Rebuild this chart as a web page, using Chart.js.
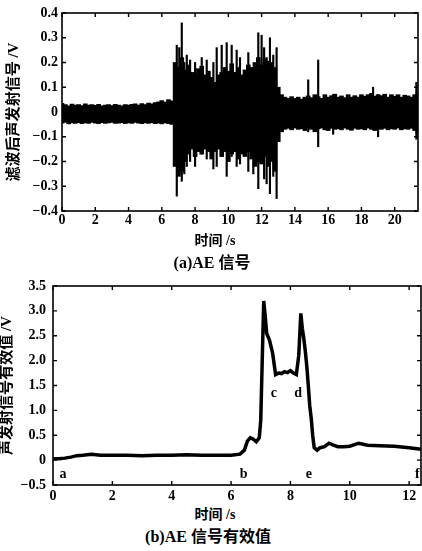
<!DOCTYPE html>
<html>
<head>
<meta charset="utf-8">
<script src="https://cdn.jsdelivr.net/npm/chart.js@4/dist/chart.umd.min.js"></script>
<style>
html,body{margin:0;padding:0;background:#fff;}
body{width:422px;height:551px;position:relative;overflow:hidden;}
canvas{position:absolute;left:0;}
.t{position:absolute;text-align:center;color:#000;font-weight:bold;white-space:nowrap;
   font-family:'Liberation Serif','Noto Sans CJK SC',serif;}
</style>
</head>
<body>
<canvas id="ca" width="422" height="250" style="top:0;width:422px;height:250px"></canvas>
<canvas id="cb" width="422" height="235" style="top:270px;width:422px;height:235px"></canvas>
<div class="t" style="left:0;width:430px;top:233px;font-size:14px;line-height:16px;">时间 /s</div>
<div class="t" style="left:0;width:424px;top:254px;font-size:16px;line-height:18px;">(a)AE 信号</div>
<div class="t" style="left:0;width:430px;top:507px;font-size:14px;line-height:16px;">时间 /s</div>
<div class="t" style="left:0;width:416px;top:528px;font-size:16px;line-height:18px;">(b)AE 信号有效值</div>
<script>
// ---------- Chart (a): AE signal (envelope, 0.2 s steps) ----------
const timeA = [0,0.2,0.4,0.6,0.8,1.0,1.2,1.4,1.6,1.8,2.0,2.2,2.4,2.6,2.8,3.0,3.2,3.4,3.6,3.8,
  4.0,4.2,4.4,4.6,4.8,5.0,5.2,5.4,5.6,5.8,6.0,6.2,6.4,6.6,6.8,7.0,7.2,7.4,7.6,7.8,
  8.0,8.2,8.4,8.6,8.8,9.0,9.2,9.4,9.6,9.8,10.0,10.2,10.4,10.6,10.8,11.0,11.2,11.4,11.6,11.8,
  12.0,12.2,12.4,12.6,12.8,13.0,13.2,13.4,13.6,13.8,14.0,14.2,14.4,14.6,14.8,15.0,15.2,15.4,15.6,15.8,
  16.0,16.2,16.4,16.6,16.8,17.0,17.2,17.4,17.6,17.8,18.0,18.2,18.4,18.6,18.8,19.0,19.2,19.4,19.6,19.8,
  20.0,20.2,20.4,20.6,20.8,21.0,21.2,21.4];
const upperA = [0.035,0.030,0.025,0.032,0.028,0.030,0.026,0.033,0.028,0.030,
  0.027,0.031,0.025,0.028,0.030,0.026,0.031,0.028,0.025,0.030,
  0.028,0.031,0.033,0.028,0.034,0.030,0.036,0.033,0.038,0.041,
  0.046,0.040,0.050,0.045,0.200,0.180,0.220,0.170,0.190,0.160,
  0.150,0.175,0.185,0.150,0.165,0.140,0.120,0.150,0.160,0.180,
  0.165,0.195,0.160,0.180,0.150,0.170,0.190,0.180,0.200,0.220,
  0.190,0.215,0.205,0.200,0.180,0.100,0.070,0.060,0.055,0.062,
  0.055,0.060,0.052,0.060,0.065,0.058,0.070,0.062,0.055,0.070,
  0.060,0.066,0.072,0.060,0.065,0.058,0.070,0.060,0.066,0.060,
  0.070,0.064,0.070,0.075,0.064,0.070,0.066,0.072,0.060,0.070,
  0.064,0.070,0.060,0.068,0.065,0.060,0.070,0.080];
const lowerA = [-0.045,-0.042,-0.048,-0.044,-0.046,-0.043,-0.047,-0.044,-0.046,-0.042,
  -0.045,-0.047,-0.043,-0.046,-0.044,-0.042,-0.046,-0.045,-0.043,-0.047,
  -0.044,-0.046,-0.042,-0.045,-0.047,-0.044,-0.046,-0.043,-0.047,-0.045,
  -0.048,-0.044,-0.047,-0.050,-0.220,-0.260,-0.240,-0.200,-0.170,-0.150,
  -0.180,-0.160,-0.170,-0.150,-0.160,-0.190,-0.160,-0.150,-0.180,-0.160,
  -0.200,-0.170,-0.160,-0.190,-0.170,-0.180,-0.160,-0.190,-0.220,-0.200,
  -0.210,-0.180,-0.220,-0.200,-0.240,-0.120,-0.080,-0.070,-0.066,-0.072,
  -0.065,-0.070,-0.068,-0.075,-0.066,-0.070,-0.080,-0.068,-0.065,-0.072,
  -0.075,-0.066,-0.070,-0.068,-0.072,-0.065,-0.070,-0.074,-0.066,-0.070,
  -0.068,-0.072,-0.065,-0.070,-0.075,-0.068,-0.070,-0.066,-0.072,-0.068,
  -0.070,-0.065,-0.072,-0.068,-0.070,-0.066,-0.075,-0.085];
// isolated spikes
const spikeTime = [6.9,7.05,7.2,7.35,7.5,7.7,8.0,8.4,8.7,9.1,9.3,9.6,9.9,10.2,10.5,10.7,11.2,11.5,11.8,12.0,12.15,12.3,12.5,12.7,12.9,14.8,15.4,16.3,18.7,19.0,21.3];
const spikeHigh = [0.27,0.26,0.36,0.20,0.23,0.21,0.20,0.22,0.21,0.20,0.26,0.27,0.28,0.27,0.25,0.22,0.24,0.18,0.32,0.31,0.26,0.22,0.30,0.23,0.26,0.13,0.21,0.07,0.10,0.07,0.12];
const spikeLow  = [-0.34,-0.20,-0.28,-0.25,-0.22,-0.20,-0.22,-0.17,-0.19,-0.23,-0.22,-0.18,-0.26,-0.18,-0.22,-0.21,-0.24,-0.25,-0.31,-0.20,-0.27,-0.29,-0.33,-0.26,-0.35,-0.08,-0.14,-0.09,-0.07,-0.10,-0.11];

const xTicksA = [0,2,4,6,8,10,12,14,16,18,20];
const xTickLabelsA = ['0','2','4','6','8','10','12','14','16','18','20'];
const yTicksA = [-0.4,-0.3,-0.2,-0.1,0,0.1,0.2,0.3,0.4];
const yTickLabelsA = ['\u22120.4','\u22120.3','\u22120.2','\u22120.1','0','0.1','0.2','0.3','0.4'];

// ---------- Chart (b): RMS of AE signal ----------
const timeB = [0,0.2,0.4,0.6,0.8,1.0,1.3,1.6,2.0,2.5,3.0,3.5,4.0,4.5,5.0,5.5,6.0,6.3,6.45,6.55,
  6.65,6.75,6.85,6.95,7.0,7.05,7.1,7.15,7.2,7.3,7.4,7.5,7.6,7.7,7.8,7.9,8.0,8.1,8.2,8.28,
  8.35,8.4,8.45,8.5,8.55,8.6,8.65,8.7,8.75,8.8,8.9,9.0,9.15,9.3,9.45,9.6,9.8,10.0,10.3,10.6,
  11.0,11.5,12.0,12.4];
const rmsB = [0.03,0.03,0.04,0.06,0.09,0.10,0.12,0.10,0.10,0.10,0.09,0.10,0.10,0.11,0.10,0.10,0.10,0.12,0.20,0.38,
  0.45,0.42,0.37,0.45,0.80,2.00,3.20,2.90,2.55,2.40,2.15,1.72,1.75,1.74,1.78,1.76,1.80,1.75,1.72,2.10,
  2.95,2.65,2.45,2.20,1.90,1.52,1.10,0.85,0.50,0.25,0.20,0.25,0.27,0.34,0.30,0.27,0.27,0.28,0.34,0.30,
  0.29,0.28,0.25,0.22];
const markLabels = ['a','b','c','d','e','f'];
const markX = [0.34,6.42,7.44,8.26,8.62,12.28];
const markY = [-0.29,-0.29,1.35,1.35,-0.29,-0.29];

const xTicksB = [0,2,4,6,8,10,12];
const xTickLabelsB = ['0','2','4','6','8','10','12'];
const yTicksB = [-0.5,0,0.5,1.0,1.5,2.0,2.5,3.0,3.5];
const yTickLabelsB = ['\u22120.5','0','0.5','1.0','1.5','2.0','2.5','3.0','3.5'];

// ---------- shared ----------
const tickFont = {family:"'Liberation Serif', serif", size:14, weight:'bold'};
const noGrid = {display:false, drawTicks:false};
const framePlugin = {
  id:'frame',
  afterDraw(chart){
    const {ctx, chartArea:a, scales:{x,y}} = chart;
    ctx.save();
    ctx.strokeStyle = '#000';
    ctx.lineWidth = 1.6;
    ctx.strokeRect(a.left, a.top, a.right - a.left, a.bottom - a.top);
    ctx.lineWidth = 1.4;
    ctx.beginPath();
    x.ticks.forEach(t => {
      const px = x.getPixelForValue(t.value);
      ctx.moveTo(px, a.bottom); ctx.lineTo(px, a.bottom - 4);
      ctx.moveTo(px, a.top); ctx.lineTo(px, a.top + 4);
    });
    y.ticks.forEach(t => {
      const py = y.getPixelForValue(t.value);
      ctx.moveTo(a.left, py); ctx.lineTo(a.left + 4, py);
      ctx.moveTo(a.right, py); ctx.lineTo(a.right - 4, py);
    });
    ctx.stroke();
    ctx.restore();
  }
};
function fixedTicks(vals){ return s => { s.ticks = vals.map(v => ({value:v})); }; }

new Chart(document.getElementById('ca'), {
  type:'bar',
  data:{
    datasets:[
      {data: timeA.map((t,i)=>({x:t, y:[lowerA[i], upperA[i]]})),
       backgroundColor:'#000', borderWidth:0, barThickness:4, grouped:false},
      {data: spikeTime.map((t,i)=>({x:t, y:[spikeLow[i], spikeHigh[i]]})),
       backgroundColor:'#000', borderWidth:0, barThickness:1.5, grouped:false}
    ]
  },
  options:{
    responsive:false, animation:false, devicePixelRatio:1,
    layout:{padding:{top:13, right:4, left:0, bottom:0}},
    plugins:{legend:{display:false}, tooltip:{enabled:false}},
    scales:{
      x:{type:'linear', min:0, max:21.4, offset:false,
         grid:noGrid, border:{display:false},
         afterBuildTicks: fixedTicks(xTicksA),
         afterFit: s => { s.height = 39; },
         ticks:{padding:1, color:'#000', font:tickFont, maxRotation:0, autoSkip:false,
                callback:(v,i)=>xTickLabelsA[i]}},
      y:{min:-0.4, max:0.4,
         grid:noGrid, border:{display:false},
         afterBuildTicks: fixedTicks(yTicksA),
         afterFit: s => { s.width = 62; },
         ticks:{padding:4, color:'#000', font:tickFont, autoSkip:false,
                callback:(v,i)=>yTickLabelsA[i]},
         title:{display:true, text:'滤波后声发射信号 /V', color:'#000',
                font:{family:"'Liberation Serif','Noto Sans CJK SC', serif", size:15, weight:'bold', lineHeight:1},
                padding:{top:7, bottom:0}}}
    }
  },
  plugins:[framePlugin]
});

const labelPlugin = {
  id:'marks',
  afterDatasetsDraw(chart){
    const {ctx, scales:{x,y}} = chart;
    ctx.save();
    ctx.fillStyle = '#000';
    ctx.font = "bold 14px 'Liberation Serif', serif";
    ctx.textAlign = 'center'; ctx.textBaseline = 'middle';
    markLabels.forEach((m,i) => ctx.fillText(m, x.getPixelForValue(markX[i]), y.getPixelForValue(markY[i])));
    ctx.restore();
  }
};

new Chart(document.getElementById('cb'), {
  type:'line',
  data:{
    datasets:[{data: timeB.map((t,i)=>({x:t, y:rmsB[i]})),
      borderColor:'#000', borderWidth:3.5, pointRadius:0, tension:0, fill:false}]
  },
  options:{
    responsive:false, animation:false, devicePixelRatio:1,
    layout:{padding:{top:16, right:1, left:0, bottom:0}},
    plugins:{legend:{display:false}, tooltip:{enabled:false}},
    scales:{
      x:{type:'linear', min:0, max:12.4,
         grid:noGrid, border:{display:false},
         afterBuildTicks: fixedTicks(xTicksB),
         afterFit: s => { s.height = 20; },
         ticks:{padding:3, color:'#000', font:tickFont, maxRotation:0, autoSkip:false,
                callback:(v,i)=>xTickLabelsB[i]}},
      y:{min:-0.5, max:3.5,
         grid:noGrid, border:{display:false},
         afterBuildTicks: fixedTicks(yTicksB),
         afterFit: s => { s.width = 53; },
         ticks:{padding:7, color:'#000', font:tickFont, autoSkip:false,
                callback:(v,i)=>yTickLabelsB[i]},
         title:{display:true, text:'声发射信号有效值 /V', color:'#000',
                font:{family:"'Liberation Serif','Noto Sans CJK SC', serif", size:15, weight:'bold', lineHeight:1},
                padding:{top:0, bottom:0}}}
    }
  },
  plugins:[framePlugin, labelPlugin]
});
</script>
</body>
</html>
